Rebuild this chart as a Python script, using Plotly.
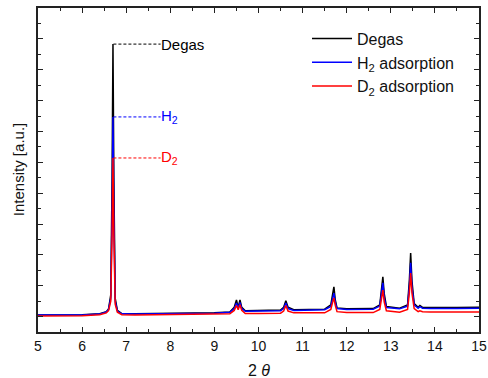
import plotly.graph_objects as go

two_theta = [5.0, 6.0, 6.4, 6.55, 6.6, 6.65, 6.68, 6.70, 6.72, 6.75, 6.8, 6.9, 7.2, 8.0, 9.0,
             9.35, 9.45, 9.50, 9.54, 9.58, 9.62, 9.7, 10.0, 10.5, 10.57, 10.62, 10.67, 10.8,
             11.5, 11.64, 11.68, 11.71, 11.74, 11.78, 12.0, 12.6, 12.75, 12.79, 12.82, 12.85,
             12.9, 13.2, 13.38, 13.42, 13.45, 13.48, 13.53, 13.62, 13.66, 13.72, 13.9, 14.5, 15.0]

degas = [0.05, 0.06, 0.09, 0.16, 0.25, 0.7, 4.5, 8.83, 4.5, 0.6, 0.2, 0.1, 0.09, 0.1, 0.12,
         0.15, 0.3, 0.54, 0.3, 0.54, 0.3, 0.19, 0.19, 0.21, 0.3, 0.51, 0.3, 0.22,
         0.24, 0.38, 0.72, 0.96, 0.55, 0.28, 0.25, 0.26, 0.38, 0.9, 1.29, 0.75, 0.33, 0.27,
         0.38, 1.15, 2.06, 1.15, 0.42, 0.3, 0.36, 0.3, 0.29, 0.29, 0.3]

h2 = [0.05, 0.05, 0.08, 0.15, 0.23, 0.6, 3.4, 6.47, 3.4, 0.5, 0.18, 0.09, 0.08, 0.09, 0.11,
      0.14, 0.26, 0.44, 0.28, 0.46, 0.26, 0.17, 0.17, 0.19, 0.26, 0.44, 0.26, 0.2,
      0.22, 0.33, 0.58, 0.76, 0.47, 0.26, 0.23, 0.24, 0.34, 0.75, 1.09, 0.62, 0.29, 0.25,
      0.34, 0.95, 1.74, 0.95, 0.38, 0.27, 0.32, 0.27, 0.26, 0.26, 0.27]

d2 = [0.02, 0.03, 0.06, 0.12, 0.19, 0.5, 2.7, 5.14, 2.7, 0.4, 0.14, 0.06, 0.05, 0.06, 0.07,
      0.09, 0.2, 0.36, 0.22, 0.38, 0.2, 0.1, 0.1, 0.11, 0.18, 0.36, 0.18, 0.12,
      0.12, 0.23, 0.46, 0.6, 0.37, 0.16, 0.13, 0.13, 0.23, 0.58, 0.86, 0.48, 0.19, 0.14,
      0.23, 0.76, 1.41, 0.76, 0.26, 0.16, 0.19, 0.16, 0.15, 0.15, 0.15]

series_names = ["Degas", "H<sub>2</sub> adsorption", "D<sub>2</sub> adsorption"]
peak_labels = ["Degas", "H<sub>2</sub>", "D<sub>2</sub>"]
colors = ["#000000", "#0000ff", "#ff0000"]
main_peak_x = 6.71
label_x = 7.78
FONT = "Liberation Sans, Arial, sans-serif"

fig = go.Figure()
for ys, name, c in zip([degas, h2, d2], series_names, colors):
    fig.add_trace(go.Scatter(x=two_theta, y=ys, mode="lines", name=name,
                             line=dict(color=c, width=1.5)))

peaks = [max(degas), max(h2), max(d2)]
for pk, lab, c in zip(peaks, peak_labels, colors):
    fig.add_shape(type="line", x0=main_peak_x, x1=label_x, y0=pk, y1=pk,
                  line=dict(color=c, width=1, dash="3px,2px"))
    fig.add_annotation(x=label_x, y=pk, text=lab, showarrow=False, xanchor="left",
                       yanchor="middle", xshift=-2, font=dict(color=c, size=15, family=FONT))

axis_common = dict(showline=True, linecolor="#222", linewidth=1.5, mirror="allticks",
                   ticks="inside", ticklen=5, tickcolor="#222", tickwidth=1.2,
                   showgrid=False, zeroline=False, automargin=False)

fig.update_xaxes(range=[5, 15], dtick=1, tick0=5,
                 minor=dict(ticks="inside", ticklen=3, dtick=0.5, tickcolor="#222", showgrid=False),
                 tickfont=dict(size=14, color="#111"),
                 **axis_common)
fig.update_yaxes(range=[-0.5, 10], dtick=1, tick0=0, showticklabels=False,
                 minor=dict(ticks="inside", ticklen=3, dtick=0.5, tickcolor="#222", showgrid=False),
                 **axis_common)

fig.add_annotation(xref="paper", yref="paper", x=0.5, y=-0.085, yanchor="top",
                   text="2 <i>θ</i>", showarrow=False, font=dict(size=16, color="#111", family=FONT))
fig.add_annotation(xref="paper", yref="paper", x=-0.045, y=0.5, xanchor="center",
                   yanchor="middle", textangle=-90,
                   text="Intensity [a.u.]", showarrow=False, font=dict(size=15, color="#111", family=FONT))

fig.update_layout(
    width=488, height=378,
    margin=dict(l=38, r=9, t=8, b=46),
    paper_bgcolor="white", plot_bgcolor="white",
    font=dict(family=FONT, color="#111"),
    legend=dict(x=0.61, y=0.958, xanchor="left", yanchor="top", bgcolor="rgba(0,0,0,0)",
                font=dict(size=16), itemwidth=40, tracegroupgap=0),
    showlegend=True,
)

fig.write_html("out.html", config={"displayModeBar": False},
               post_script="document.body.style.margin='0';document.body.style.overflow='hidden';")
